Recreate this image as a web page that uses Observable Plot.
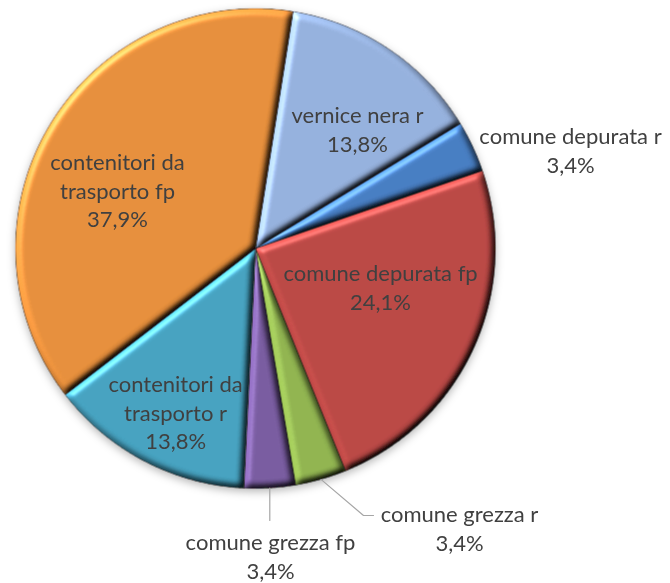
<!DOCTYPE html>
<html>
<head>
<meta charset="utf-8">
<script src="https://cdn.jsdelivr.net/npm/d3@7"></script>
<script src="https://cdn.jsdelivr.net/npm/@observablehq/plot@0.6"></script>
<style>
  body { margin: 0; background: #fff; }
  #chart svg { display: block; }
</style>
</head>
<body>
<div id="chart"></div>
<script>
// ---- data ----
const categories = [
  "vernice nera r",
  "comune depurata r",
  "comune depurata fp",
  "comune grezza r",
  "comune grezza fp",
  "contenitori da trasporto r",
  "contenitori da trasporto fp"
];
const labelTexts = [
  "vernice nera r",
  "comune depurata r",
  "comune depurata fp",
  "comune grezza r",
  "comune grezza fp",
  "contenitori da\ntrasporto r",
  "contenitori da\ntrasporto fp"
];
const counts = [4, 1, 7, 1, 1, 4, 11];
const colors = ["#98B3DF", "#4A80C4", "#BC4B48", "#93B653", "#7C5FA3", "#49A4C2", "#E8913F"];

// ---- layout ----
const W = 670, H = 583;
const cx = 255, cy = 248, R = 240;
const startDeg = 9;
// label block centers in chart units (radius = 1)
const labelPos = [
  [0.425, 0.50],
  [1.3125, 0.4125],
  [0.521, -0.158],
  [0.85, -1.1625],
  [0.0625, -1.279],
  [-0.333, -0.679],
  [-0.575, 0.246]
];
// leader line elbows (chart units) for outside labels
const leaders = {
  3: [[0.45, -1.1125], [0.4917, -1.1125]],
  4: [[null, -1.133]]
};

const total = d3.sum(counts);
const fmt = v => (v / total * 100).toFixed(1).replace(".", ",") + "%";

const arcs = d3.pie().sort(null)
  .startAngle(startDeg * Math.PI / 180)
  .endAngle(startDeg * Math.PI / 180 + 2 * Math.PI)(counts);

const slicePts = [];
arcs.forEach((a, i) => {
  const name = categories[i];
  slicePts.push({x: 0, y: 0, name});
  const n = Math.max(4, Math.ceil((a.endAngle - a.startAngle) / (Math.PI / 360)));
  for (let k = 0; k <= n; k++) {
    const t = a.startAngle + (a.endAngle - a.startAngle) * k / n;
    slicePts.push({x: Math.sin(t), y: Math.cos(t), name});
  }
  slicePts.push({x: 0, y: 0, name});
});

const leaderPts = [];
Object.entries(leaders).forEach(([idx, elbows]) => {
  const a = arcs[+idx];
  const m = (a.startAngle + a.endAngle) / 2;
  const sx = Math.sin(m), sy = Math.cos(m);
  leaderPts.push({x: sx, y: sy, id: idx});
  elbows.forEach(([ex, ey]) => leaderPts.push({x: ex == null ? sx : ex, y: ey, id: idx}));
});

const labels = categories.map((c, i) => ({
  name: c,
  text: labelTexts[i] + "\n" + fmt(counts[i]),
  x: labelPos[i][0],
  y: labelPos[i][1]
}));

const chart = Plot.plot({
  width: W,
  height: H,
  marginLeft: cx - R,
  marginRight: W - (cx + R),
  marginTop: cy - R,
  marginBottom: H - (cy + R),
  x: {domain: [-1, 1], axis: null},
  y: {domain: [-1, 1], axis: null},
  color: {domain: categories, range: colors},
  style: {background: "#fff", overflow: "visible"},
  marks: [
    Plot.line(slicePts, {
      x: "x", y: "y", z: "name", fill: "name",
      stroke: "#000", strokeOpacity: 0.45, strokeWidth: 1, strokeLinejoin: "round"
    }),
    Plot.line(leaderPts, {x: "x", y: "y", z: "id", stroke: "#A6A6A6", strokeWidth: 1.2}),
    Plot.text(labels, {
      x: "x", y: "y", text: "text",
      fill: "#404040", fontSize: 22, lineHeight: 1.3,
      fontFamily: "Lato, 'Open Sans', sans-serif"
    })
  ]
});

const svg = d3.select(chart);
svg.insert("defs", ":first-child").html(`
  <filter id="bevel" x="-5%" y="-5%" width="110%" height="110%" color-interpolation-filters="sRGB">
    <feGaussianBlur in="SourceAlpha" stdDeviation="3.5" result="b"/>
    <feDiffuseLighting in="b" surfaceScale="4" diffuseConstant="1" lighting-color="#fff" result="d">
      <feDistantLight azimuth="225" elevation="45"/>
    </feDiffuseLighting>
    <feSpecularLighting in="b" surfaceScale="4" specularConstant="0.5" specularExponent="25" lighting-color="#fff" result="s">
      <feDistantLight azimuth="225" elevation="45"/>
    </feSpecularLighting>
    <feComposite in="SourceGraphic" in2="d" operator="arithmetic" k1="1.414" k2="0" k3="0" k4="0" result="lit"/>
    <feComposite in="s" in2="SourceAlpha" operator="in" result="s2"/>
    <feComposite in="lit" in2="s2" operator="arithmetic" k1="0" k2="1" k3="0.5" k4="-0.06" result="all"/>
    <feComposite in="all" in2="SourceAlpha" operator="in"/>
  </filter>
  <filter id="shadow" x="-10%" y="-10%" width="120%" height="120%">
    <feDropShadow dx="0" dy="3" stdDeviation="4" flood-color="#000" flood-opacity="0.3"/>
  </filter>
`);
const sliceGroup = svg.select('g[aria-label="line"]');
sliceGroup.attr("filter", "url(#shadow)");
sliceGroup.selectAll("path").attr("filter", "url(#bevel)");

document.getElementById("chart").appendChild(chart);
</script>
</body>
</html>
